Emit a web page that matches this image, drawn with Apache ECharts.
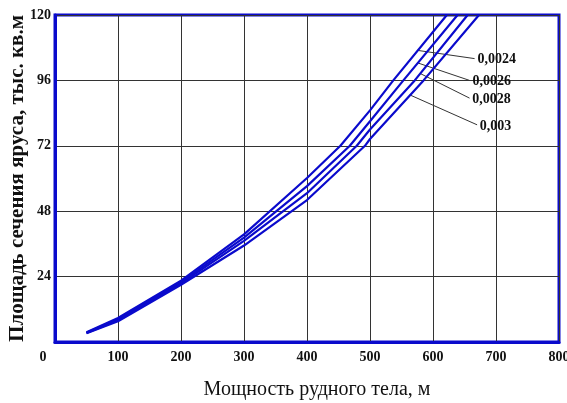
<!DOCTYPE html>
<html><head><meta charset="utf-8">
<script src="https://cdn.jsdelivr.net/npm/echarts@6/dist/echarts.min.js"></script>
<style>html,body{margin:0;padding:0;background:#fff}#c{width:567px;height:403px}</style>
</head><body><div id="c"></div>
<script>
// Data (x: мощность рудного тела, м; y: площадь, тыс. кв.м)
const xTicks = [0, 100, 200, 300, 400, 500, 600, 700, 800];
const yTicks = [0, 24, 48, 72, 96, 120];
const seriesNames = ['0,0024', '0,0026', '0,0028', '0,003'];
const curve0024 = [[50, 3.6], [100, 8.8], [200, 22.5], [300, 39.5], [400, 60.2], [453, 72], [500, 85], [537, 96], [622, 120]];
const curve0026 = [[50, 3.4], [100, 8.4], [200, 22.0], [300, 38.3], [400, 57.2], [468, 72], [500, 81], [553, 96], [639, 120]];
const curve0028 = [[50, 3.3], [100, 8.0], [200, 21.5], [300, 37.1], [400, 54.6], [479, 72], [500, 78], [571, 96], [655, 120]];
const curve003  = [[50, 3.2], [100, 7.6], [200, 21.0], [300, 35.4], [400, 52.1], [492, 72], [500, 74.5], [585, 96], [673, 120]];
const curves = [curve0024, curve0026, curve0028, curve003];

// leader lines for labels (start on curve, end near label) in data units
const leaders = [
  [[576, 107], [666, 104]],
  [[576, 102.4], [658, 96]],
  [[580, 98.5], [658, 89.5]],
  [[563, 90.7], [670, 79.7]]
];

const blue = '#0a0acc';
const serif = '"Liberation Serif", "DejaVu Serif", serif';
const chart = echarts.init(document.getElementById('c'), null, {renderer: 'canvas'});

const series = curves.map((d, i) => ({
  name: seriesNames[i],
  type: 'line',
  data: d,
  showSymbol: false,
  smooth: false,
  lineStyle: {color: blue, width: 2.2},
  z: 5,
  markLine: {
    silent: true,
    symbol: ['none', 'none'],
    lineStyle: {color: '#333', width: 1, type: 'solid'},
    label: {
      show: true, position: 'end', distance: 3,
      formatter: seriesNames[i],
      color: '#111', fontFamily: serif, fontWeight: 'bold', fontSize: 14
    },
    data: [[{coord: leaders[i][0]}, {coord: leaders[i][1]}]]
  }
}));

chart.setOption({
  animation: false,
  backgroundColor: '#fff',
  grid: {left: 55, right: 8, top: 15, bottom: 61, containLabel: false, outerBoundsMode: 'none',
         show: true, borderColor: blue, borderWidth: 3, backgroundColor: 'transparent'},
  xAxis: {
    type: 'value', min: xTicks[0], max: xTicks[xTicks.length - 1], interval: 100,
    axisLine: {show: true, lineStyle: {color: blue, width: 3}},
    axisTick: {show: false},
    splitLine: {show: true, lineStyle: {color: '#333', width: 1}},
    axisLabel: {
      margin: 8, color: '#111', fontFamily: serif, fontWeight: 'bold', fontSize: 14,
      formatter: v => v === 0 ? '{z|0}' : String(v),
      rich: {z: {padding: [0, 24, 0, 0], fontFamily: serif, fontWeight: 'bold', fontSize: 14, color: '#111'}}
    },
    name: 'Мощность рудного тела, м',
    nameLocation: 'middle', nameGap: 38, nameMoveOverlap: false,
    nameTextStyle: {fontFamily: serif, fontSize: 20, color: '#111', padding: [0, 0, 0, 20]}
  },
  yAxis: {
    type: 'value', min: yTicks[0], max: yTicks[yTicks.length - 1], interval: 24,
    axisLine: {show: true, lineStyle: {color: blue, width: 3}},
    axisTick: {show: false},
    splitLine: {show: true, lineStyle: {color: '#333', width: 1}},
    axisLabel: {
      margin: 4, color: '#111', fontFamily: serif, fontWeight: 'bold', fontSize: 14,
      formatter: v => v === 0 ? '' : String(v)
    },
    name: 'Площадь сечения яруса, тыс. кв.м',
    nameLocation: 'middle', nameGap: 27, nameRotate: 90, nameMoveOverlap: false,
    nameTextStyle: {fontFamily: serif, fontSize: 21, fontWeight: 'bold', color: '#111'}
  },
  series: series
});
</script></body></html>
